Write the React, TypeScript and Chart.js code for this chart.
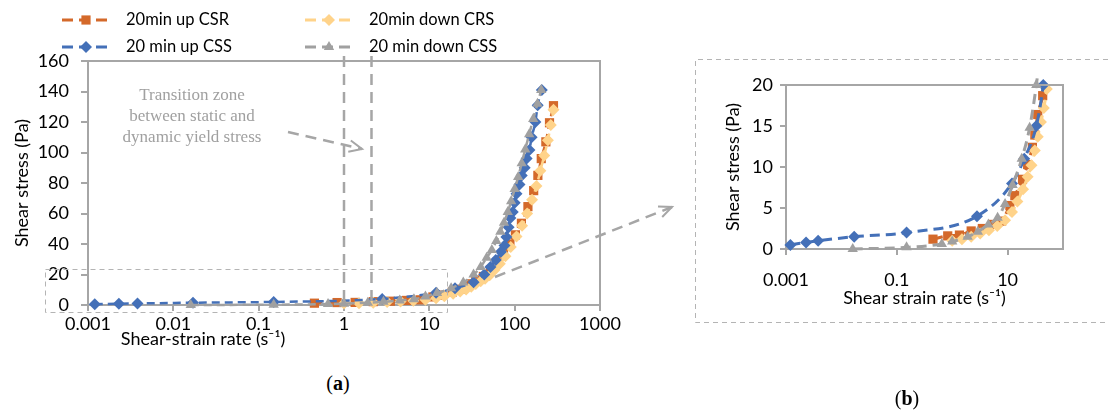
import React, { useEffect, useRef } from 'react';
import { Chart, registerables } from 'chart.js';
import { drawPoint } from 'chart.js/helpers';

Chart.register(...registerables);

// ---------------- data ----------------
const seriesLabels = ['20min up CSR', '20min down CRS', '20 min up CSS', '20 min down CSS'];

const csrUpX = [0.45, 0.83, 1.35, 2.2, 3.5, 5.4, 7.8, 11, 13.5, 18.6, 23, 28, 31, 35, 43, 52, 62, 74, 88, 102, 120, 143, 167, 187, 205, 232, 256, 285];
const csrUpY = [1.2, 1.6, 1.7, 2.2, 2.5, 3.0, 3.4, 5.3, 6.5, 8.5, 10.3, 12.4, 13.9, 16.4, 18.7, 23, 28, 34, 40, 46, 53.6, 64.5, 75, 85, 96, 107, 119.5, 130.7];

const crsDownX = [1.0, 1.5, 2.2, 3.2, 4.6, 6.5, 9, 12, 15, 19, 23, 27, 31, 35, 40, 45, 51, 58, 67, 78, 90, 105, 122, 140, 160, 180, 200, 222, 245, 265, 285];
const crsDownY = [1.0, 1.2, 1.5, 1.9, 2.3, 2.8, 3.5, 4.5, 5.8, 7.3, 8.8, 10.2, 12, 13.7, 15.5, 17.2, 19.5, 23, 27, 32, 38, 45, 52, 60, 69, 78, 88, 98, 108, 118, 128];

const cssUpX = [0.0012, 0.0023, 0.0038, 0.017, 0.15, 2.8, 12, 20, 33, 44, 52, 60, 69, 76, 80, 85, 89, 95, 100, 105, 114, 121, 131, 138, 149, 158, 175, 186, 208];
const cssUpY = [0.5, 0.8, 1.0, 1.5, 2.0, 4.0, 8, 11, 15, 20, 25, 29.5, 35, 39, 44.6, 51, 57, 61, 67, 73, 79, 85, 90, 96, 101.6, 110, 120, 131, 141];

const cssDownX = [0.016, 0.15, 0.65, 1.0, 1.9, 2.9, 4.5, 6.6, 9, 12.3, 18, 25, 33, 40, 47, 54, 61, 68, 75, 83, 91, 100, 110, 121, 133, 148, 165, 185, 205];
const cssDownY = [0, 0.2, 0.6, 0.9, 1.5, 2.1, 3.0, 3.8, 5.5, 7.8, 11, 14.8, 20, 25, 31, 36, 42, 48, 54, 61, 68, 76, 84, 93, 102, 112, 122, 132, 141];

const xTicksA = [0.001, 0.01, 0.1, 1, 10, 100, 1000];
const xTicksB = [0.001, 0.1, 10];
const transitionZone = [1, 2.1];
const zoomBoxRight = 16;
const zoomBoxTop = 23.5;

// ---------------- styles ----------------
const FONT = 'Lato, "Open Sans", sans-serif';
const FS = 18;
const LEGEND_FS = 16.5;
const AXIS = '#a6a6a6';
const ANNOT = '#a6a6a6';

const SERIES = [
  { x: csrUpX, y: csrUpY, color: '#D4692A', style: 'rect', radius: 6.5 },
  { x: crsDownX, y: crsDownY, color: '#FFD38A', style: 'rectRot', radius: 6 },
  { x: cssUpX, y: cssUpY, color: '#4470B8', style: 'rectRot', radius: 6 },
  { x: cssDownX, y: cssDownY, color: '#A0A0A0', style: 'triangle', radius: 6 },
];

function makeDatasets(lineWidth: number, dash: number[], clip: number) {
  return SERIES.map((s, i) => ({
    label: seriesLabels[i],
    data: s.x.map((x, j) => ({ x, y: s.y[j] })),
    showLine: true,
    borderColor: s.color,
    backgroundColor: s.color,
    pointBackgroundColor: s.color,
    pointBorderColor: s.color,
    pointBorderWidth: 0,
    pointStyle: s.style,
    pointRadius: s.radius,
    borderWidth: lineWidth,
    borderDash: dash,
    order: SERIES.length - i,
    cubicInterpolationMode: 'monotone',
    clip,
  }));
}

function drawArrow(ctx: CanvasRenderingContext2D, x0: number, y0: number, x1: number, y1: number) {
  ctx.save();
  ctx.strokeStyle = ANNOT;
  ctx.lineWidth = 2.5;
  ctx.setLineDash([11, 7]);
  ctx.beginPath();
  ctx.moveTo(x0, y0);
  ctx.lineTo(x1, y1);
  ctx.stroke();
  const ang = Math.atan2(y1 - y0, x1 - x0);
  ctx.setLineDash([]);
  ctx.lineWidth = 2;
  ctx.beginPath();
  ctx.moveTo(x1 - 14 * Math.cos(ang - 0.42), y1 - 14 * Math.sin(ang - 0.42));
  ctx.lineTo(x1, y1);
  ctx.lineTo(x1 - 14 * Math.cos(ang + 0.42), y1 - 14 * Math.sin(ang + 0.42));
  ctx.stroke();
  ctx.restore();
}

const LEGEND_POS = [[62, 20], [305, 20], [62, 47], [305, 47]];

const pluginA = {
  id: 'annotA',
  afterDraw(chart: any) {
    const { ctx, chartArea: ca, scales } = chart;
    const xs = scales.x;
    const ys = scales.y;
    ctx.save();
    // plot frame (top/right)
    ctx.strokeStyle = AXIS;
    ctx.lineWidth = 2;
    ctx.setLineDash([]);
    ctx.beginPath();
    ctx.moveTo(ca.left, ca.top);
    ctx.lineTo(ca.right, ca.top);
    ctx.lineTo(ca.right, ca.bottom);
    ctx.stroke();
    // transition zone lines
    ctx.strokeStyle = ANNOT;
    ctx.lineWidth = 2.5;
    ctx.setLineDash([11, 7]);
    transitionZone.forEach((v) => {
      const px = xs.getPixelForValue(v);
      ctx.beginPath();
      ctx.moveTo(px, ca.top - 5);
      ctx.lineTo(px, ca.bottom);
      ctx.stroke();
    });
    // zoom box
    ctx.lineWidth = 1;
    ctx.setLineDash([5, 4]);
    ctx.strokeStyle = '#b4b4b4';
    const bx0 = 45.5;
    const bx1 = Math.round(xs.getPixelForValue(zoomBoxRight)) + 0.5;
    const by0 = Math.round(ys.getPixelForValue(zoomBoxTop)) + 0.5;
    const by1 = Math.round(ca.bottom) + 7.5;
    ctx.strokeRect(bx0, by0, bx1 - bx0, by1 - by0);
    ctx.restore();
    // arrows
    drawArrow(ctx, 288, 132, 362, 149);
    drawArrow(ctx, 495, 277, 672, 207);
    // legend
    ctx.save();
    chart.data.datasets.forEach((ds: any, i: number) => {
      const [lx, ly] = LEGEND_POS[i];
      ctx.strokeStyle = ds.borderColor;
      ctx.lineWidth = 3;
      ctx.setLineDash([11, 6]);
      ctx.beginPath();
      ctx.moveTo(lx, ly);
      ctx.lineTo(lx + 48, ly);
      ctx.stroke();
      ctx.setLineDash([]);
      ctx.fillStyle = ds.borderColor;
      drawPoint(ctx, { pointStyle: ds.pointStyle, radius: ds.pointRadius, borderWidth: 0, rotation: 0 } as any, lx + 24, ly);
      ctx.fillStyle = '#000';
      ctx.font = `${LEGEND_FS}px ${FONT}`;
      ctx.textAlign = 'left';
      ctx.textBaseline = 'middle';
      ctx.fillText(ds.label, lx + 64, ly);
    });
    // x-axis title
    ctx.fillStyle = '#000';
    ctx.font = `${FS}px ${FONT}`;
    ctx.textAlign = 'center';
    ctx.textBaseline = 'middle';
    ctx.fillText('Shear-strain rate (s\u207B\u00B9)', 203, 339);
    ctx.restore();
  },
};

const pluginB = {
  id: 'annotB',
  afterDraw(chart: any) {
    const { ctx, chartArea: ca, width } = chart;
    ctx.save();
    ctx.strokeStyle = AXIS;
    ctx.lineWidth = 2;
    ctx.setLineDash([]);
    ctx.beginPath();
    ctx.moveTo(ca.left, ca.top);
    ctx.lineTo(ca.right, ca.top);
    ctx.lineTo(ca.right, ca.bottom);
    ctx.stroke();
    // outer dashed frame
    ctx.strokeStyle = '#b4b4b4';
    ctx.lineWidth = 1;
    ctx.setLineDash([5, 4]);
    ctx.beginPath();
    ctx.moveTo(width, 59.5);
    ctx.lineTo(5.5, 59.5);
    ctx.lineTo(5.5, 322.5);
    ctx.lineTo(width, 322.5);
    ctx.stroke();
    ctx.restore();
  },
};

function axisCommon(tickLength: number) {
  return {
    grid: { drawOnChartArea: false, drawTicks: true, tickLength, color: AXIS, lineWidth: 2 },
    border: { display: true, color: AXIS, width: 2 },
  };
}

function configA(): any {
  return {
    type: 'scatter',
    data: { datasets: makeDatasets(2.5, [8, 5], 8) },
    plugins: [pluginA],
    options: {
      responsive: false,
      animation: false,
      events: [],
      layout: { padding: { left: 0, top: 61, right: 90, bottom: 0 } },
      plugins: { legend: { display: false }, tooltip: { enabled: false } },
      scales: {
        x: {
          type: 'logarithmic',
          min: 0.001,
          max: 1000,
          afterBuildTicks: (s: any) => { s.ticks = xTicksA.map((v) => ({ value: v })); },
          afterFit: (s: any) => { s.height = 55; },
          ticks: { autoSkip: false, maxRotation: 0, padding: 2, color: '#000', font: { size: FS, family: FONT }, callback: (v: any) => String(v) },
          ...axisCommon(6),
        },
        y: {
          type: 'linear',
          min: 0,
          max: 160,
          afterFit: (s: any) => { s.width = 88; },
          ticks: { stepSize: 20, padding: 12, color: '#000', font: { size: FS, family: FONT } },
          title: { display: true, text: 'Shear stress (Pa)', color: '#000', font: { size: FS, family: FONT }, padding: { top: 11, bottom: 0 } },
          ...axisCommon(7),
        },
      },
    },
  };
}

function configB(): any {
  return {
    type: 'scatter',
    data: { datasets: makeDatasets(3, [10, 6], 7) },
    plugins: [pluginB],
    options: {
      responsive: false,
      animation: false,
      events: [],
      layout: { padding: { left: 0, top: 85, right: 45, bottom: 103 } },
      plugins: { legend: { display: false }, tooltip: { enabled: false } },
      scales: {
        x: {
          type: 'logarithmic',
          min: 0.001,
          max: 100,
          afterBuildTicks: (s: any) => { s.ticks = xTicksB.map((v) => ({ value: v })); },
          afterFit: (s: any) => { s.height = 60; },
          ticks: { autoSkip: false, maxRotation: 0, padding: 14, color: '#000', font: { size: FS, family: FONT }, callback: (v: any) => String(v) },
          title: { display: true, text: 'Shear strain rate (s\u207B\u00B9)', color: '#000', font: { size: FS, family: FONT }, padding: { top: 0, bottom: 0 } },
          ...axisCommon(6),
        },
        y: {
          type: 'linear',
          min: 0,
          max: 20,
          afterFit: (s: any) => { s.width = 96; },
          ticks: { stepSize: 5, padding: 7, color: '#000', font: { size: FS, family: FONT } },
          title: { display: true, text: 'Shear stress (Pa)', color: '#000', font: { size: FS, family: FONT }, padding: { top: 32, bottom: 0 } },
          ...axisCommon(6),
        },
      },
    },
  };
}

const serifLabel: React.CSSProperties = {
  position: 'absolute',
  width: 60,
  textAlign: 'center',
  fontFamily: '"Liberation Serif", serif',
  fontSize: 20,
  lineHeight: '22px',
  color: '#000',
};

export default function App() {
  const refA = useRef<HTMLCanvasElement>(null);
  const refB = useRef<HTMLCanvasElement>(null);

  useEffect(() => {
    Chart.defaults.font.family = FONT;
    const a = new Chart(refA.current as HTMLCanvasElement, configA());
    const b = new Chart(refB.current as HTMLCanvasElement, configB());
    return () => {
      a.destroy();
      b.destroy();
    };
  }, []);

  return (
    <div style={{ position: 'absolute', left: 0, top: 0, width: 1108, height: 412, background: '#fff', overflow: 'hidden' }}>
      <canvas ref={refA} width={690} height={360} style={{ position: 'absolute', left: 0, top: 0 }} />
      <canvas ref={refB} width={418} height={412} style={{ position: 'absolute', left: 690, top: 0 }} />
      <div
        style={{
          position: 'absolute',
          left: 92,
          top: 84,
          width: 200,
          textAlign: 'center',
          fontFamily: '"Liberation Serif", serif',
          fontSize: 17,
          lineHeight: '21px',
          color: '#a0a0a0',
        }}
      >
        Transition zone
        <br />
        between static and
        <br />
        dynamic yield stress
      </div>
      <div style={{ ...serifLabel, left: 308, top: 372 }}>
        (<b>a</b>)
      </div>
      <div style={{ ...serifLabel, left: 877, top: 387 }}>
        (<b>b</b>)
      </div>
    </div>
  );
}
